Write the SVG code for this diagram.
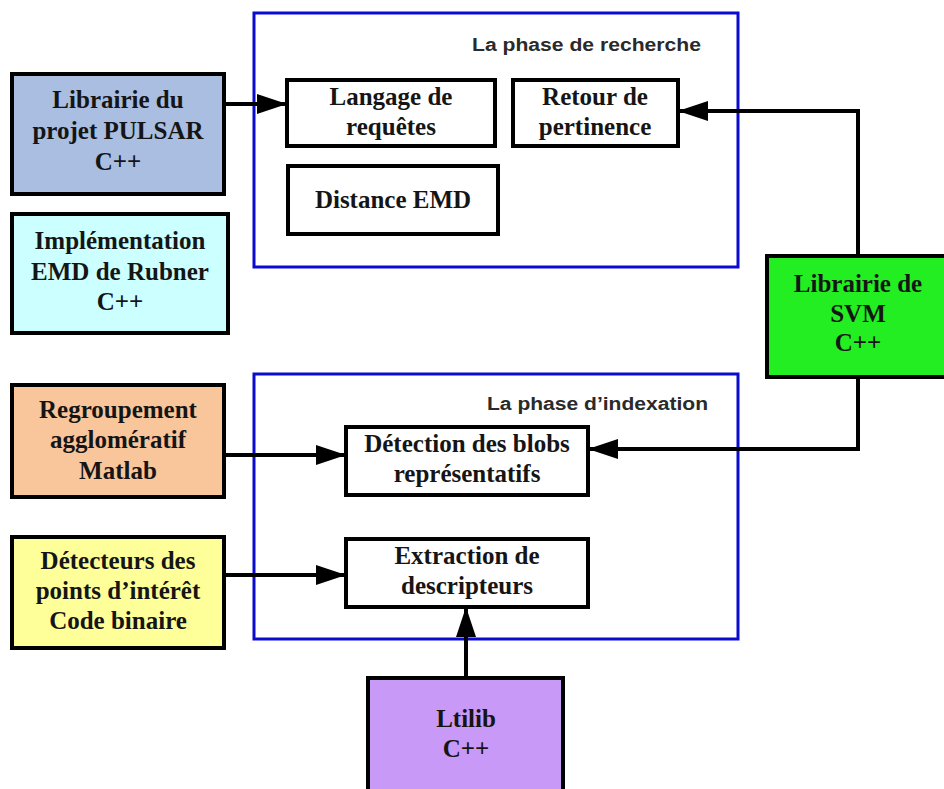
<svg xmlns="http://www.w3.org/2000/svg" width="944" height="789" viewBox="0 0 944 789">
<style>
.bg{fill:#ffffff}
.phase{fill:none;stroke:#0a0ad0;stroke-width:3}
.ptitle{font-family:"Liberation Sans",Arial,sans-serif;font-weight:bold;font-size:18px;fill:#2a2a2a}
.box{stroke:#000;stroke-width:4}
.t{font-family:"Liberation Serif","Times New Roman",serif;font-weight:bold;font-size:25px;fill:#151515;text-anchor:middle}
.conn{fill:none;stroke:#000;stroke-width:4}
</style>
<defs>
<marker id="arr" viewBox="0 0 30 20" refX="30" refY="10" markerWidth="30" markerHeight="20" markerUnits="userSpaceOnUse" orient="auto">
<path d="M0,0 L30,10 L0,20 Z" fill="#000"/>
</marker>
</defs>
<rect class="bg" x="0" y="0" width="944" height="789"/>

<g id="phase-recherche">
<rect class="phase" x="254" y="13" width="484" height="254"/>
<text class="ptitle" x="701" y="51" text-anchor="end" textLength="229" lengthAdjust="spacingAndGlyphs">La phase de recherche</text>
</g>
<g id="phase-indexation">
<rect class="phase" x="254" y="374" width="484" height="265"/>
<text class="ptitle" x="708" y="410" text-anchor="end" textLength="221" lengthAdjust="spacingAndGlyphs">La phase d’indexation</text>
</g>

<g id="langage">
<rect class="box" x="287" y="80" width="208" height="66" fill="#fff"/>
<text class="t" x="391" y="105">Langage de</text>
<text class="t" x="391" y="135">requêtes</text>
</g>
<g id="retour">
<rect class="box" x="513" y="80" width="165" height="66" fill="#fff"/>
<text class="t" x="595" y="105">Retour de</text>
<text class="t" x="595" y="135">pertinence</text>
</g>
<g id="distance">
<rect class="box" x="288" y="166" width="210" height="68" fill="#fff"/>
<text class="t" x="393" y="208">Distance EMD</text>
</g>
<g id="pulsar">
<rect class="box" x="12" y="74" width="212" height="120" fill="#a9bee0"/>
<text class="t" x="118" y="108">Librairie du</text>
<text class="t" x="118" y="139">projet PULSAR</text>
<text class="t" x="118" y="170">C++</text>
</g>
<g id="rubner">
<rect class="box" x="12" y="214" width="216" height="119" fill="#ccffff"/>
<text class="t" x="120" y="249">Implémentation</text>
<text class="t" x="120" y="280">EMD de Rubner</text>
<text class="t" x="120" y="310">C++</text>
</g>
<g id="svm">
<rect class="box" x="767" y="256" width="182" height="121" fill="#22ee22"/>
<text class="t" x="858" y="292">Librairie de</text>
<text class="t" x="858" y="322">SVM</text>
<text class="t" x="858" y="351">C++</text>
</g>
<g id="regroupement">
<rect class="box" x="12" y="385" width="212" height="112" fill="#f9c59b"/>
<text class="t" x="118" y="418">Regroupement</text>
<text class="t" x="118" y="448">agglomératif</text>
<text class="t" x="118" y="479">Matlab</text>
</g>
<g id="detecteurs">
<rect class="box" x="12" y="537" width="212" height="111" fill="#ffff99"/>
<text class="t" x="118" y="569">Détecteurs des</text>
<text class="t" x="118" y="599">points d’intérêt</text>
<text class="t" x="118" y="629">Code binaire</text>
</g>
<g id="detection">
<rect class="box" x="346" y="427" width="242" height="68" fill="#fff"/>
<text class="t" x="467" y="452">Détection des blobs</text>
<text class="t" x="467" y="482">représentatifs</text>
</g>
<g id="extraction">
<rect class="box" x="346" y="539" width="242" height="68" fill="#fff"/>
<text class="t" x="467" y="564">Extraction de</text>
<text class="t" x="467" y="594">descripteurs</text>
</g>
<g id="ltilib">
<rect class="box" x="368" y="678" width="195" height="120" fill="#c999f7"/>
<text class="t" x="466" y="727">Ltilib</text>
<text class="t" x="466" y="757">C++</text>
</g>

<g id="connectors">
<path class="conn" d="M224,104 H287" marker-end="url(#arr)"/>
<path class="conn" d="M858,256 V111 H678" marker-end="url(#arr)"/>
<path class="conn" d="M858,377 V449 H588" marker-end="url(#arr)"/>
<path class="conn" d="M224,455 H346" marker-end="url(#arr)"/>
<path class="conn" d="M224,575 H346" marker-end="url(#arr)"/>
<path class="conn" d="M466,678 V607" marker-end="url(#arr)"/>
</g>
</svg>
